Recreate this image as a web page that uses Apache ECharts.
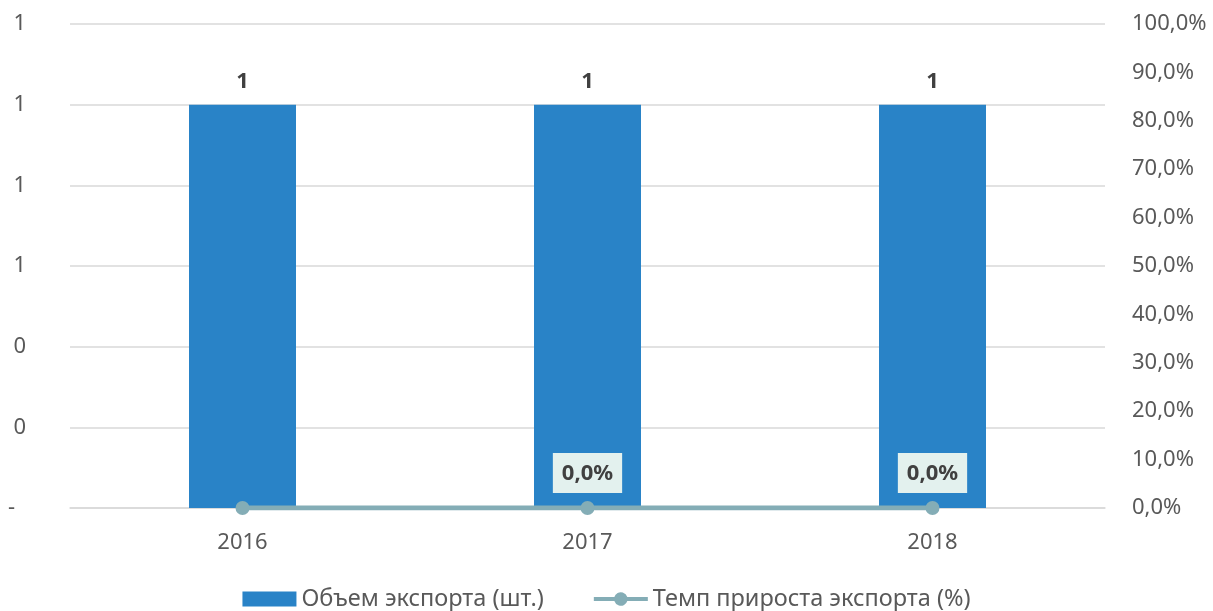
<!DOCTYPE html>
<html>
<head>
<meta charset="utf-8">
<script src="https://cdn.jsdelivr.net/npm/echarts@6/dist/echarts.min.js"></script>
<style>html,body{margin:0;padding:0;background:#fff}#c{width:1213px;height:611px}</style>
</head>
<body>
<div id="c"></div>
<script>
var categories = ['2016', '2017', '2018'];
var exportVolume = [1, 1, 1];
var exportGrowth = [0, 0, 0];
var growthLabelShown = [false, true, true];

var FONT = '"Noto Sans", sans-serif';
var LINE_ICON = 'path://M0,6H21.29A7,7 0 0 1 34.71,6H56V10H34.71A7,7 0 0 1 21.29,10H0Z';
var chart = echarts.init(document.getElementById('c'));
chart.setOption({
  animation: false,
  textStyle: { fontFamily: FONT },
  grid: { left: 70, right: 108, top: 24, bottom: 103 },
  legend: {
    top: 582, left: 'center',
    itemWidth: 54, itemHeight: 15, itemGap: 50,
    textStyle: { fontSize: 23.5, color: '#595959', fontFamily: FONT },
    data: [
      { name: 'Объем экспорта (шт.)', icon: 'rect' },
      { name: 'Темп прироста экспорта (%)', icon: LINE_ICON, itemStyle: { color: '#84adb6' } }
    ]
  },
  xAxis: {
    type: 'category', data: categories,
    axisLine: { lineStyle: { color: '#d9d9d9', width: 1.5 } },
    axisTick: { show: false },
    axisLabel: { fontSize: 22, color: '#595959', margin: 24 }
  },
  yAxis: [
    {
      type: 'value', min: 0, max: 1.2, interval: 0.2,
      axisLine: { show: false }, axisTick: { show: false },
      splitLine: { lineStyle: { color: '#d9d9d9', width: 1.5 } },
      axisLabel: {
        fontSize: 22, color: '#595959', margin: 44,
        formatter: function (v) { return v === 0 ? '{d|-}' : String(Math.round(v)); },
        rich: { d: { fontSize: 22, color: '#595959', padding: [0, 11, 0, 0] } }
      }
    },
    {
      type: 'value', min: 0, max: 1, interval: 0.1,
      axisLine: { show: false }, axisTick: { show: false },
      splitLine: { show: false },
      axisLabel: {
        fontSize: 22, color: '#595959', margin: 27, align: 'left',
        formatter: function (v) { return (v * 100).toFixed(1).replace('.', ',') + '%'; }
      }
    }
  ],
  series: [
    {
      name: 'Объем экспорта (шт.)', type: 'bar', yAxisIndex: 0,
      data: exportVolume, barWidth: 107,
      itemStyle: { color: '#2983c7' },
      label: {
        show: true, position: 'top', distance: 12,
        fontSize: 22, fontWeight: 'bold', color: '#404040',
        formatter: function (p) { return String(Math.round(p.value)); }
      }
    },
    {
      name: 'Темп прироста экспорта (%)', type: 'line', yAxisIndex: 1,
      data: exportGrowth.map(function (v, i) {
        return { value: v, label: { show: growthLabelShown[i] } };
      }),
      symbol: 'circle', symbolSize: 14,
      lineStyle: { color: '#84adb6', width: 5 },
      itemStyle: { color: '#84adb6' },
      label: {
        position: 'top', distance: 8,
        fontSize: 22, fontWeight: 'bold', color: '#404040',
        backgroundColor: '#e3f1ee', padding: [10, 9, 8, 9],
        formatter: function (p) { return (p.value * 100).toFixed(1).replace('.', ',') + '%'; }
      }
    }
  ]
});
</script>
</body>
</html>
